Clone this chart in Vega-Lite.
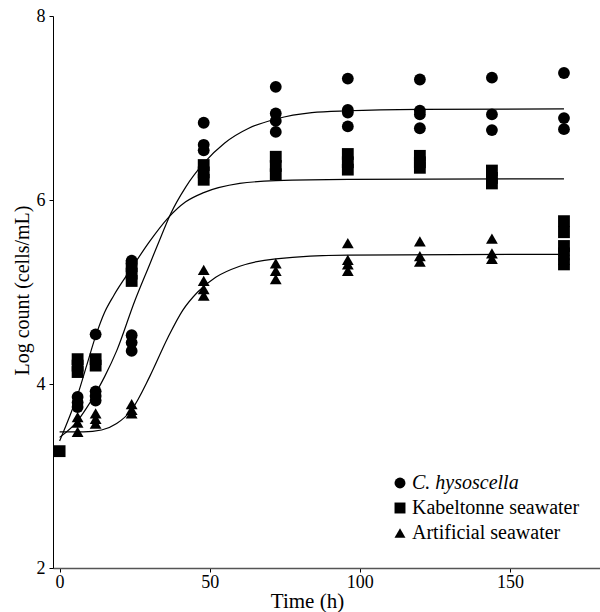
{
  "$schema": "https://vega.github.io/schema/vega-lite/v6.json",
  "width": 547,
  "height": 552,
  "autosize": {"type": "none"},
  "padding": {"left": 53, "top": 16, "right": 0, "bottom": 44},
  "config": {
    "view": {"stroke": null},
    "font": "Liberation Serif"
  },
  "datasets": {
    "points": [
      {"group": "Artificial seawater", "t": 6, "y": 3.64},
      {"group": "Artificial seawater", "t": 6, "y": 3.58},
      {"group": "Artificial seawater", "t": 6, "y": 3.48},
      {"group": "Artificial seawater", "t": 12, "y": 3.68},
      {"group": "Artificial seawater", "t": 12, "y": 3.62},
      {"group": "Artificial seawater", "t": 12, "y": 3.57},
      {"group": "Artificial seawater", "t": 24, "y": 3.78},
      {"group": "Artificial seawater", "t": 24, "y": 3.72},
      {"group": "Artificial seawater", "t": 24, "y": 3.68},
      {"group": "Artificial seawater", "t": 48, "y": 5.24},
      {"group": "Artificial seawater", "t": 48, "y": 5.12},
      {"group": "Artificial seawater", "t": 48, "y": 5.03},
      {"group": "Artificial seawater", "t": 48, "y": 4.96},
      {"group": "Artificial seawater", "t": 72, "y": 5.31},
      {"group": "Artificial seawater", "t": 72, "y": 5.23},
      {"group": "Artificial seawater", "t": 72, "y": 5.14},
      {"group": "Artificial seawater", "t": 96, "y": 5.53},
      {"group": "Artificial seawater", "t": 96, "y": 5.35},
      {"group": "Artificial seawater", "t": 96, "y": 5.3},
      {"group": "Artificial seawater", "t": 96, "y": 5.23},
      {"group": "Artificial seawater", "t": 120, "y": 5.55},
      {"group": "Artificial seawater", "t": 120, "y": 5.39},
      {"group": "Artificial seawater", "t": 120, "y": 5.33},
      {"group": "Artificial seawater", "t": 144, "y": 5.58},
      {"group": "Artificial seawater", "t": 144, "y": 5.42},
      {"group": "Artificial seawater", "t": 144, "y": 5.36},
      {"group": "Artificial seawater", "t": 168, "y": 5.45},
      {"group": "Artificial seawater", "t": 168, "y": 5.4},
      {"group": "Artificial seawater", "t": 168, "y": 5.35},
      {"group": "C. hysoscella", "t": 6, "y": 3.86},
      {"group": "C. hysoscella", "t": 6, "y": 3.8},
      {"group": "C. hysoscella", "t": 6, "y": 3.75},
      {"group": "C. hysoscella", "t": 12, "y": 4.54},
      {"group": "C. hysoscella", "t": 12, "y": 3.92},
      {"group": "C. hysoscella", "t": 12, "y": 3.87},
      {"group": "C. hysoscella", "t": 12, "y": 3.82},
      {"group": "C. hysoscella", "t": 24, "y": 5.34},
      {"group": "C. hysoscella", "t": 24, "y": 5.31},
      {"group": "C. hysoscella", "t": 24, "y": 4.53},
      {"group": "C. hysoscella", "t": 24, "y": 4.45},
      {"group": "C. hysoscella", "t": 24, "y": 4.36},
      {"group": "C. hysoscella", "t": 48, "y": 6.84},
      {"group": "C. hysoscella", "t": 48, "y": 6.6},
      {"group": "C. hysoscella", "t": 48, "y": 6.54},
      {"group": "C. hysoscella", "t": 72, "y": 7.23},
      {"group": "C. hysoscella", "t": 72, "y": 6.94},
      {"group": "C. hysoscella", "t": 72, "y": 6.86},
      {"group": "C. hysoscella", "t": 72, "y": 6.74},
      {"group": "C. hysoscella", "t": 96, "y": 7.32},
      {"group": "C. hysoscella", "t": 96, "y": 6.98},
      {"group": "C. hysoscella", "t": 96, "y": 6.95},
      {"group": "C. hysoscella", "t": 96, "y": 6.8},
      {"group": "C. hysoscella", "t": 120, "y": 7.31},
      {"group": "C. hysoscella", "t": 120, "y": 6.97},
      {"group": "C. hysoscella", "t": 120, "y": 6.93},
      {"group": "C. hysoscella", "t": 120, "y": 6.78},
      {"group": "C. hysoscella", "t": 144, "y": 7.33},
      {"group": "C. hysoscella", "t": 144, "y": 6.93},
      {"group": "C. hysoscella", "t": 144, "y": 6.76},
      {"group": "C. hysoscella", "t": 168, "y": 7.38},
      {"group": "C. hysoscella", "t": 168, "y": 6.89},
      {"group": "C. hysoscella", "t": 168, "y": 6.77},
      {"group": "Kabeltonne seawater", "t": 0, "y": 3.27},
      {"group": "Kabeltonne seawater", "t": 6, "y": 4.27},
      {"group": "Kabeltonne seawater", "t": 6, "y": 4.2},
      {"group": "Kabeltonne seawater", "t": 6, "y": 4.13},
      {"group": "Kabeltonne seawater", "t": 12, "y": 4.27},
      {"group": "Kabeltonne seawater", "t": 12, "y": 4.2},
      {"group": "Kabeltonne seawater", "t": 24, "y": 5.28},
      {"group": "Kabeltonne seawater", "t": 24, "y": 5.2},
      {"group": "Kabeltonne seawater", "t": 24, "y": 5.12},
      {"group": "Kabeltonne seawater", "t": 48, "y": 6.38},
      {"group": "Kabeltonne seawater", "t": 48, "y": 6.3},
      {"group": "Kabeltonne seawater", "t": 48, "y": 6.22},
      {"group": "Kabeltonne seawater", "t": 72, "y": 6.47},
      {"group": "Kabeltonne seawater", "t": 72, "y": 6.37},
      {"group": "Kabeltonne seawater", "t": 72, "y": 6.28},
      {"group": "Kabeltonne seawater", "t": 96, "y": 6.5},
      {"group": "Kabeltonne seawater", "t": 96, "y": 6.41},
      {"group": "Kabeltonne seawater", "t": 96, "y": 6.33},
      {"group": "Kabeltonne seawater", "t": 120, "y": 6.48},
      {"group": "Kabeltonne seawater", "t": 120, "y": 6.41},
      {"group": "Kabeltonne seawater", "t": 120, "y": 6.35},
      {"group": "Kabeltonne seawater", "t": 144, "y": 6.32},
      {"group": "Kabeltonne seawater", "t": 144, "y": 6.24},
      {"group": "Kabeltonne seawater", "t": 144, "y": 6.18},
      {"group": "Kabeltonne seawater", "t": 168, "y": 5.77},
      {"group": "Kabeltonne seawater", "t": 168, "y": 5.65},
      {"group": "Kabeltonne seawater", "t": 168, "y": 5.5},
      {"group": "Kabeltonne seawater", "t": 168, "y": 5.42},
      {"group": "Kabeltonne seawater", "t": 168, "y": 5.3}
    ],
    "curves": [
      {"group": "C. hysoscella", "t": 0, "y": 3.42},
      {"group": "C. hysoscella", "t": 6, "y": 3.6},
      {"group": "C. hysoscella", "t": 9, "y": 3.74},
      {"group": "C. hysoscella", "t": 12, "y": 3.9},
      {"group": "C. hysoscella", "t": 15, "y": 4.08},
      {"group": "C. hysoscella", "t": 19, "y": 4.36},
      {"group": "C. hysoscella", "t": 25, "y": 4.9},
      {"group": "C. hysoscella", "t": 30, "y": 5.3},
      {"group": "C. hysoscella", "t": 34, "y": 5.62},
      {"group": "C. hysoscella", "t": 37, "y": 5.85},
      {"group": "C. hysoscella", "t": 42, "y": 6.14},
      {"group": "C. hysoscella", "t": 48, "y": 6.4},
      {"group": "C. hysoscella", "t": 55, "y": 6.62},
      {"group": "C. hysoscella", "t": 63, "y": 6.78},
      {"group": "C. hysoscella", "t": 72, "y": 6.88},
      {"group": "C. hysoscella", "t": 84, "y": 6.95},
      {"group": "C. hysoscella", "t": 96, "y": 6.97},
      {"group": "C. hysoscella", "t": 120, "y": 6.985},
      {"group": "C. hysoscella", "t": 168, "y": 6.99},
      {"group": "Kabeltonne seawater", "t": 0, "y": 3.38},
      {"group": "Kabeltonne seawater", "t": 3, "y": 3.62},
      {"group": "Kabeltonne seawater", "t": 6, "y": 3.88},
      {"group": "Kabeltonne seawater", "t": 9, "y": 4.2},
      {"group": "Kabeltonne seawater", "t": 12, "y": 4.52},
      {"group": "Kabeltonne seawater", "t": 15, "y": 4.78},
      {"group": "Kabeltonne seawater", "t": 18, "y": 4.96},
      {"group": "Kabeltonne seawater", "t": 24, "y": 5.26},
      {"group": "Kabeltonne seawater", "t": 30, "y": 5.55},
      {"group": "Kabeltonne seawater", "t": 36, "y": 5.8},
      {"group": "Kabeltonne seawater", "t": 42, "y": 5.98},
      {"group": "Kabeltonne seawater", "t": 48, "y": 6.08},
      {"group": "Kabeltonne seawater", "t": 60, "y": 6.18},
      {"group": "Kabeltonne seawater", "t": 72, "y": 6.21},
      {"group": "Kabeltonne seawater", "t": 96, "y": 6.225},
      {"group": "Kabeltonne seawater", "t": 168, "y": 6.23},
      {"group": "Artificial seawater", "t": 0, "y": 3.48},
      {"group": "Artificial seawater", "t": 8, "y": 3.48},
      {"group": "Artificial seawater", "t": 14, "y": 3.5},
      {"group": "Artificial seawater", "t": 19, "y": 3.57},
      {"group": "Artificial seawater", "t": 24, "y": 3.72},
      {"group": "Artificial seawater", "t": 30, "y": 4.08},
      {"group": "Artificial seawater", "t": 36, "y": 4.5},
      {"group": "Artificial seawater", "t": 41, "y": 4.8},
      {"group": "Artificial seawater", "t": 46, "y": 5.0},
      {"group": "Artificial seawater", "t": 52, "y": 5.16},
      {"group": "Artificial seawater", "t": 60, "y": 5.28},
      {"group": "Artificial seawater", "t": 72, "y": 5.36},
      {"group": "Artificial seawater", "t": 96, "y": 5.4},
      {"group": "Artificial seawater", "t": 168, "y": 5.41}
    ]
  },
  "layer": [
    {
      "data": {"name": "curves"},
      "mark": {"type": "line", "color": "black", "strokeWidth": 1.2, "interpolate": "monotone"},
      "encoding": {
        "x": {"field": "t", "type": "quantitative"},
        "y": {"field": "y", "type": "quantitative"},
        "detail": {"field": "group", "type": "nominal"}
      }
    },
    {
      "data": {"name": "points"},
      "mark": {"type": "point", "filled": true, "color": "black", "opacity": 1, "size": 140},
      "encoding": {
        "x": {
          "field": "t", "type": "quantitative",
          "scale": {"domain": [-2.2, 180], "nice": false, "zero": false},
          "axis": {
            "values": [0, 50, 100, 150], "format": "d", "title": "Time (h)", "grid": false,
            "domainColor": "#555", "domainWidth": 1.5, "tickColor": "black", "tickSize": 4,
            "labelFont": "Liberation Serif", "labelFontSize": 18, "labelColor": "black", "labelPadding": 1,
            "titleFont": "Liberation Serif", "titleFontSize": 21, "titleFontWeight": "normal", "titleColor": "black",
            "titlePadding": -1, "titleX": 254, "titleAlign": "center", "titleAnchor": "start"
          }
        },
        "y": {
          "field": "y", "type": "quantitative",
          "scale": {"domain": [2, 8], "nice": false, "zero": false},
          "axis": {
            "values": [2, 4, 6, 8], "format": "d", "title": "Log count (cells/mL)", "grid": false,
            "domainColor": "black", "tickColor": "black", "tickSize": 4,
            "labelFont": "Liberation Serif", "labelFontSize": 18, "labelColor": "black", "labelPadding": 4,
            "titleFont": "Liberation Serif", "titleFontSize": 20, "titleFontWeight": "normal", "titleColor": "black",
            "titleX": -31, "titleY": 274, "titleAngle": -90, "titleAlign": "center", "titleBaseline": "middle"
          }
        },
        "shape": {
          "field": "group", "type": "nominal",
          "scale": {"domain": ["C. hysoscella", "Kabeltonne seawater", "Artificial seawater"], "range": ["circle", "square", "triangle-up"]},
          "legend": {
            "title": null, "orient": "none", "legendX": 337, "legendY": 457, "padding": 0,
            "labelFont": "Liberation Serif", "labelFontSize": 20, "labelColor": "black", "labelLimit": 400,
            "labelFontStyle": {"expr": "datum.label == 'C. hysoscella' ? 'italic' : 'normal'"},
            "symbolSize": 120, "symbolFillColor": "black", "symbolStrokeWidth": 0, "symbolOpacity": 1,
            "rowPadding": 5, "labelOffset": 2
          }
        }
      }
    }
  ]
}
